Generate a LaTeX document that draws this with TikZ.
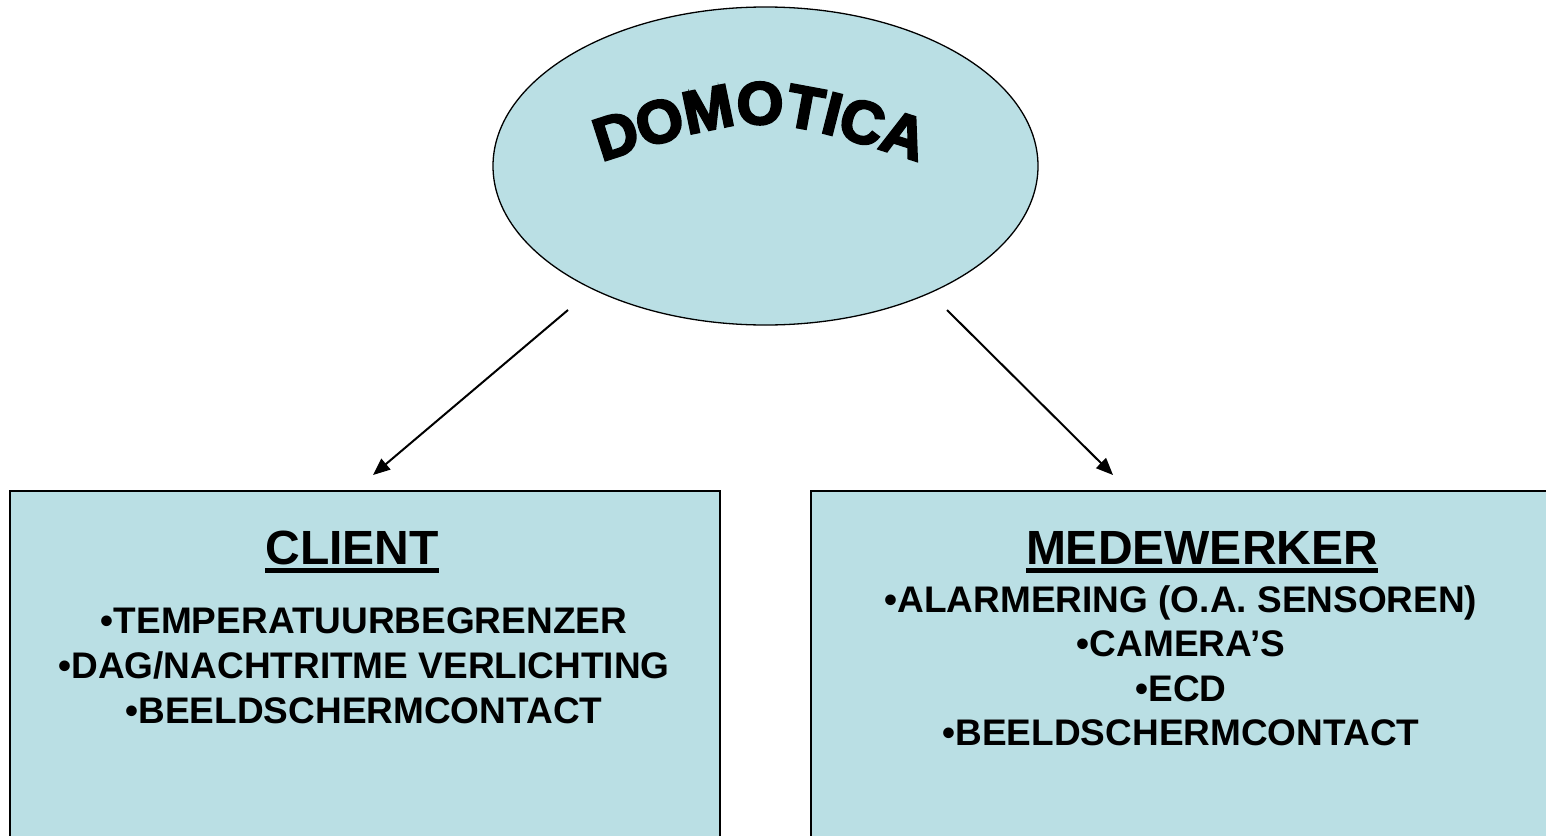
\documentclass[tikz,border=0pt]{standalone}
\usepackage{fontspec}
\setmainfont{Liberation Sans}
\newfontfamily\domfont{Liberation Sans}[BoldFeatures={FakeBold=4}]
\usetikzlibrary{shapes.geometric,arrows.meta,decorations.text}
\definecolor{fillblue}{RGB}{186,223,228}
\begin{document}
\begin{tikzpicture}[x=1pt,y=-1pt,
 panel/.style={draw=black,line width=1.6pt,fill=fillblue,inner sep=0pt},
 titletext/.style={font=\bfseries\fontsize{48}{56}\selectfont,anchor=base,inner sep=0pt},
 itemtext/.style={font=\bfseries\fontsize{37}{44}\selectfont,anchor=base,inner sep=0pt},
 link/.style={line width=2pt,-{Triangle[length=17pt,width=14pt]}},
 uline/.style={line width=4.5pt}]
\clip (0,0) rectangle (1546,835);
% central ellipse
\node[ellipse,draw=black,line width=1.3pt,fill=fillblue,minimum width=545pt,minimum height=318pt,inner sep=0pt] (dom) at (765.5,166) {};
\path[decorate,decoration={text along path,text align=center,
  text={|\domfont\bfseries\fontsize{60}{60}\selectfont|DOMOTICA}}]
  (588,166) .. controls (760,110) .. (932,166);
% boxes
\node[panel,minimum width=710pt,minimum height=380pt] (client) at (365,681) {};
\node[panel,minimum width=740pt,minimum height=380pt] (medew) at (1181,681) {};
% arrows
\coordinate (a1) at (568,310);
\coordinate (b1) at (373,475);
\coordinate (a2) at (947,310);
\coordinate (b2) at (1113,475);
\draw[link] (a1) -- (b1);
\draw[link] (a2) -- (b2);
% client text
\node[titletext] (ct) at (352,564) {CLIENT};
\draw[uline] ([yshift=-6.5pt]ct.base west) -- ([yshift=-6.5pt]ct.base east);
\node[itemtext] (c1) at (364,633) {•TEMPERATUURBEGRENZER};
\node[itemtext] (c2) at (364,678) {•DAG/NACHTRITME VERLICHTING};
\node[itemtext] (c3) at (364,723) {•BEELDSCHERMCONTACT};
% medewerker text
\node[titletext] (mt) at (1202,564) {MEDEWERKER};
\draw[uline] ([yshift=-6.5pt]mt.base west) -- ([yshift=-6.5pt]mt.base east);
\node[itemtext] (m1) at (1181,612) {•ALARMERING (O.A. SENSOREN)};
\node[itemtext] (m2) at (1181,656) {•CAMERA’S};
\node[itemtext] (m3) at (1181,701) {•ECD};
\node[itemtext] (m4) at (1181,745) {•BEELDSCHERMCONTACT};
\end{tikzpicture}
\end{document}
